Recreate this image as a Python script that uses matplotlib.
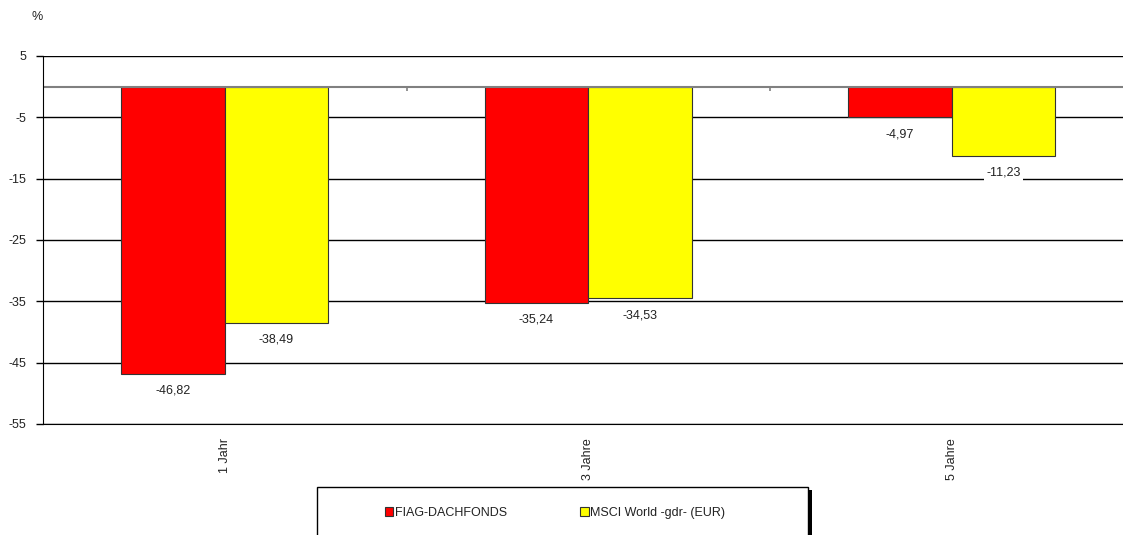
import matplotlib
matplotlib.use("Agg")
import matplotlib.pyplot as plt
from matplotlib.patches import Rectangle
import numpy as np

plt.rcParams['font.family'] = ['Liberation Sans', 'DejaVu Sans']

categories = ["1 Jahr", "3 Jahre", "5 Jahre"]
series_names = ["FIAG-DACHFONDS", "MSCI World -gdr- (EUR)"]
fiag = [-46.82, -35.24, -4.97]
msci = [-38.49, -34.53, -11.23]
yticks = [5, -5, -15, -25, -35, -45, -55]
colors = ["#FF0000", "#FFFF00"]

fs = 9
fig = plt.figure(figsize=(11.23, 5.35), dpi=100)
ax = fig.add_axes([43/1123, 1-424/535, (1133.5-43)/1123, (424-56)/535])

x = np.arange(len(categories))
w = 0.285
txtc = '#222222'

ax.set_ylim(-55, 5)
ax.set_xlim(-0.5, len(categories) - 0.5)
for yv in yticks:
    ax.axhline(yv, color='black', lw=1.0, zorder=1)

for vals, off, col in [(fiag, -w/2, colors[0]), (msci, w/2, colors[1])]:
    ax.bar(x + off, vals, width=w, color=col, edgecolor='#333333', linewidth=0.8, zorder=3)
    for xi, v in zip(x + off, vals):
        lab = f"{v:.2f}".replace('.', ',')
        ax.annotate(lab, (xi, v), xytext=(0, -17), textcoords='offset pixels',
                    ha='center', va='center', fontsize=fs, color=txtc, zorder=5,
                    bbox=dict(facecolor='white', edgecolor='none', pad=1.5))

ax.axhline(0, color='#808080', lw=1.5, zorder=4)
ax.vlines(x[:-1] + 0.5, -0.7, 0, color='#808080', lw=1.2, zorder=4)

for s in ['top', 'right']:
    ax.spines[s].set_visible(False)
ax.spines['left'].set_color('black')
ax.spines['bottom'].set_color('black')
ax.spines['left'].set_zorder(6)

ax.set_yticks(yticks)
ax.set_yticklabels([str(v) for v in yticks], fontsize=fs, color=txtc)
ax.tick_params(axis='y', length=5, width=1, direction='out', pad=7)
ax.set_xticks(x)
ax.set_xticklabels(categories, rotation=90, fontsize=fs, color=txtc, va='top')
ax.tick_params(axis='x', length=0, pad=10)

fig.text(37/1123, 1-17/535, "%", fontsize=fs, color=txtc, ha='center', va='center')

# legend box with shadow
bx, by, bw, bh = 317/1123, 1-487/535, (808-317)/1123, 0.3
fig.patches.append(Rectangle((bx + 4/1123, by - 3/535 - bh), bw, bh, transform=fig.transFigure,
                             facecolor='black', edgecolor='none', zorder=1))
fig.patches.append(Rectangle((bx, by - bh), bw, bh, transform=fig.transFigure,
                             facecolor='white', edgecolor='black', lw=1.0, zorder=2))
handles = [Rectangle((0, 0), 1, 1, facecolor=c, edgecolor='#333333', lw=0.8) for c in colors]
leg = fig.legend(handles, series_names, loc='center', bbox_to_anchor=(555/1123, 1-513/535),
                 ncol=2, frameon=False, fontsize=fs, handlelength=0.65, handleheight=0.65,
                 handletextpad=0.15, columnspacing=5.9, borderpad=0)
for t in leg.get_texts():
    t.set_color(txtc)
leg.set_zorder(5)

fig.savefig("out.png", dpi=100)
